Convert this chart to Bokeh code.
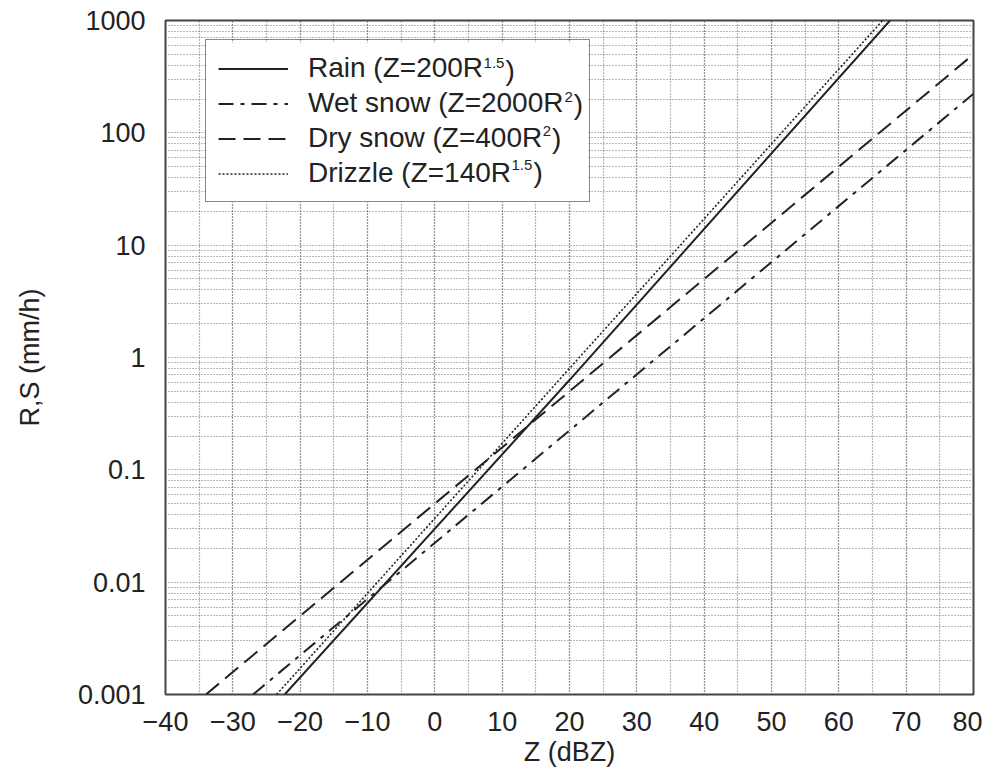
from bokeh.plotting import figure
from bokeh.models import (Range1d, SingleIntervalTicker, FixedTicker, CustomJSTickFormatter,
                          Legend, LegendItem, Label, BoxAnnotation)
from bokeh.embed import file_html
from bokeh.resources import INLINE
import math

# ---- data (points where each line meets the frame, plus a middle point) ----
rain_dbz = [-22.3, 20, 67.6]
rain_rate = [0.001, 0.63, 1000]
wet_dbz = [-27.0, 20, 80]
wet_rate = [0.001, 0.224, 223]
dry_dbz = [-34.0, 20, 80]
dry_rate = [0.001, 0.5, 500]
drizzle_dbz = [-23.5, 20, 66.5]
drizzle_rate = [0.001, 0.8, 1000]

series_names = ["Rain (Z=200R", "Wet snow (Z=2000R", "Dry snow (Z=400R", "Drizzle (Z=140R"]
series_sups = ["1.5", "2", "2", "1.5"]

x_ticks = [-40, -30, -20, -10, 0, 10, 20, 30, 40, 50, 60, 70, 80]
x_tick_labels = ["\u221240", "\u221230", "\u221220", "\u221210", "0", "10", "20", "30", "40",
                 "50", "60", "70", "80"]
y_ticks = [0.001, 0.01, 0.1, 1, 10, 100, 1000]
y_tick_labels = ["0.001", "0.01", "0.1", "1", "10", "100", "1000"]

X0, X1 = -40, 80
Y0, Y1 = 0.001, 1000

FONT = "Liberation Sans"
FS = 27
LFS = 28
INK = "#222222"

# frame position on the page
FR_LEFT, FR_TOP, FR_RIGHT, FR_BOTTOM = 165, 20, 973, 694
W, H = 982, 770


def px2x(px):
    return X0 + (px - FR_LEFT) / (FR_RIGHT - FR_LEFT) * (X1 - X0)


def py2y(py):
    l0, l1 = math.log10(Y0), math.log10(Y1)
    return 10 ** (l1 - (py - FR_TOP) / (FR_BOTTOM - FR_TOP) * (l1 - l0))


p = figure(width=W, height=H, output_backend="svg", toolbar_location=None,
           x_range=Range1d(X0, X1), y_range=Range1d(Y0, Y1), y_axis_type="log",
           min_border_left=FR_LEFT, min_border_right=W - FR_RIGHT,
           min_border_top=FR_TOP, min_border_bottom=H - FR_BOTTOM)
p.background_fill_color = "white"
p.border_fill_color = "white"
p.outline_line_color = "#444444"
p.outline_line_width = 2

# axes
p.xaxis.ticker = SingleIntervalTicker(interval=10, num_minor_ticks=2)
p.xaxis.formatter = CustomJSTickFormatter(args=dict(vals=x_ticks, labels=x_tick_labels), code="""
    let best = 0;
    for (let i = 0; i < vals.length; i++) {
        if (Math.abs(vals[i] - tick) < Math.abs(vals[best] - tick)) best = i;
    }
    return labels[best];
""")
minor_y = [m * 10.0 ** e for e in range(-3, 3) for m in range(2, 10)]
p.yaxis.ticker = FixedTicker(ticks=y_ticks, minor_ticks=minor_y)
p.yaxis.formatter = CustomJSTickFormatter(args=dict(vals=y_ticks, labels=y_tick_labels), code="""
    let best = 0;
    const lt = Math.log10(tick);
    for (let i = 0; i < vals.length; i++) {
        if (Math.abs(Math.log10(vals[i]) - lt) < Math.abs(Math.log10(vals[best]) - lt)) best = i;
    }
    return labels[best];
""")
for ax in (p.xaxis, p.yaxis):
    ax.axis_line_color = None
    ax.major_tick_line_color = None
    ax.minor_tick_line_color = None
    ax.major_tick_out = 0
    ax.major_tick_in = 0
    ax.minor_tick_out = 0
    ax.minor_tick_in = 0
    ax.major_label_text_font = FONT
    ax.major_label_text_font_size = f"{FS}px"
    ax.major_label_text_color = INK
    ax.axis_label_text_font = FONT
    ax.axis_label_text_font_size = f"{FS}px"
    ax.axis_label_text_font_style = "normal"
    ax.axis_label_text_color = INK
p.xaxis.axis_label = "Z (dBZ)"
p.yaxis.axis_label = "R,S (mm/h)"
p.xaxis.major_label_standoff = 17
p.yaxis.major_label_standoff = 20
p.xaxis.axis_label_standoff = 3
p.yaxis.axis_label_standoff = 30

# grid
for g in (p.xgrid, p.ygrid):
    g.grid_line_color = "#707070"
    g.grid_line_dash = "1 2"
    g.grid_line_width = 1.2
    g.minor_grid_line_color = "#707070"
    g.minor_grid_line_dash = "1 2"
    g.minor_grid_line_width = 1.2

# legend box geometry (page pixels)
LG_LEFT, LG_RIGHT, LG_TOP, LG_BOTTOM = 205, 588, 42, 202
PAD, GW, ROW, SP, STANDOFF = 12, 70, 31, 3, 20

# white background behind the legend, above the grid
p.add_layout(BoxAnnotation(left=px2x(LG_LEFT), right=px2x(LG_RIGHT),
                           top=py2y(LG_TOP), bottom=py2y(LG_BOTTOM),
                           fill_color="white", fill_alpha=1.0, line_color=None,
                           level="underlay"))

# lines
r_rain = p.line(rain_dbz, rain_rate, line_color=INK, line_width=2)
r_wet = p.line(wet_dbz, wet_rate, line_color=INK, line_width=2, line_dash="15 7 4 7")
r_dry = p.line(dry_dbz, dry_rate, line_color=INK, line_width=2, line_dash="17 8")
r_drz = p.line(drizzle_dbz, drizzle_rate, line_color=INK, line_width=1.6, line_dash="2 2")

legend = Legend(items=[LegendItem(label=n, renderers=[r]) for n, r in
                       zip(series_names, [r_rain, r_wet, r_dry, r_drz])],
                location=(LG_LEFT - FR_LEFT, FR_BOTTOM - LG_BOTTOM), margin=0,
                padding=PAD, spacing=SP, glyph_width=GW, glyph_height=ROW,
                label_height=ROW, label_standoff=STANDOFF,
                label_width=LG_RIGHT - LG_LEFT - 2 * PAD - GW - STANDOFF,
                label_text_font=FONT, label_text_font_size=f"{LFS}px", label_text_color=INK,
                border_line_color="#111111", border_line_width=1.5,
                background_fill_alpha=0.0)
p.add_layout(legend)

# superscripts and closing parentheses, placed after each legend label
text_em = [6.252, 9.142, 8.363, 7.251]   # Arial-metric widths of the label texts
sup_em = [1.39, 0.556, 0.556, 1.39]
SUP_FS = 15
label_x0 = LG_LEFT + PAD + GW + STANDOFF
for i in range(4):
    row_c = LG_TOP + PAD + ROW / 2 + i * (ROW + SP)
    sx = label_x0 + text_em[i] * LFS + 1
    p.add_layout(Label(x=px2x(sx), y=py2y(row_c - 7),
                       text=series_sups[i], text_font=FONT, text_font_size=f"{SUP_FS}px",
                       text_color=INK, text_baseline="alphabetic", text_align="left",
                       level="overlay"))
    px = sx + sup_em[i] * SUP_FS + 1
    p.add_layout(Label(x=px2x(px), y=py2y(row_c),
                       text=")", text_font=FONT, text_font_size=f"{LFS}px",
                       text_color=INK, text_baseline="middle", text_align="left",
                       level="overlay"))

open("out.html", "w").write(file_html(p, INLINE))
